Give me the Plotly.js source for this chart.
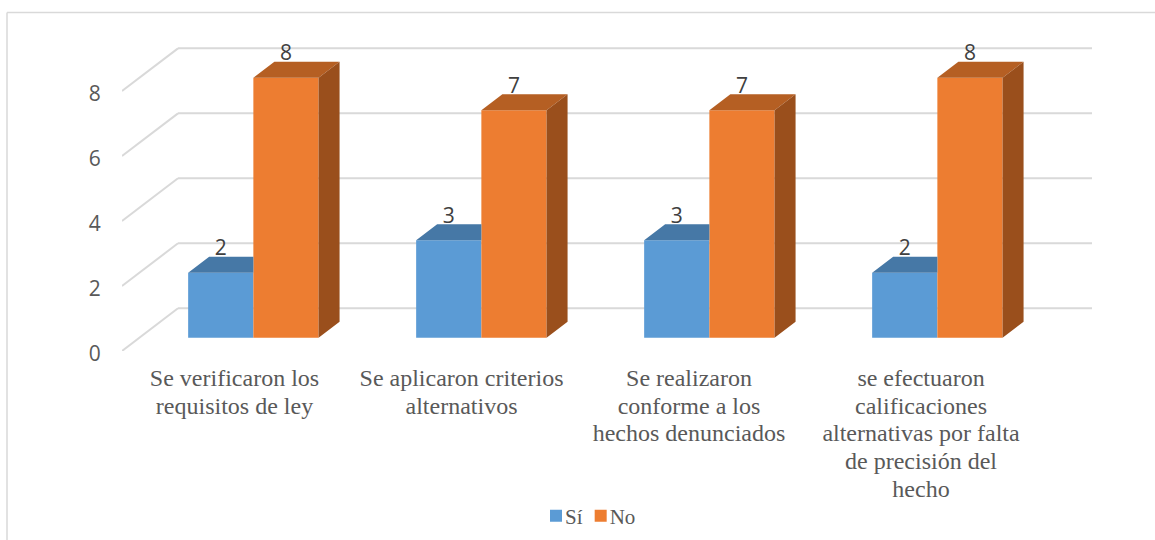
<!DOCTYPE html>
<html>
<head>
<meta charset="utf-8">
<script src="https://cdn.plot.ly/plotly-3.0.1.min.js"></script>
<style>html,body{margin:0;padding:0;background:#fff}</style>
</head>
<body>
<div id="chart" style="width:1155px;height:540px"></div>
<script>
// Survey answers per question
const categories = [0, 1, 2, 3];
const tickLabels = [
  "Se verificaron los<br>requisitos de ley",
  "Se aplicaron criterios<br>alternativos",
  "Se realizaron<br>conforme a los<br>hechos denunciados",
  "se efectuaron<br>calificaciones<br>alternativas por falta<br>de precisión del<br>hecho"
];
const si = [2, 3, 3, 2];
const no = [8, 7, 7, 8];
const yTicks = [0, 2, 4, 6, 8];

// Oblique projection of the floor, in axis units
const depthX = 0.2456, depthY = 1.315;   // full floor depth
const frontAt = 0.31, barDepth = 0.375;  // bar position inside the floor
const barWidth = 0.286;
const shiftX = frontAt * depthX, lift = frontAt * depthY;
const dx = barDepth * depthX, dy = barDepth * depthY;
const labelDrop = 0.12;

const BLUE = "#5B9BD5", BLUE_TOP = "#4678A6";
const ORANGE = "#ED7D31", ORANGE_TOP = "#B55F23", ORANGE_SIDE = "#9A4F1C";
const GRID = "#D9D9D9", SERIF = "Liberation Serif", SANS = "Open Sans";

function barTrace(name, values, color, offset) {
  return {
    type: "bar", name, x: categories.map(c => c + shiftX), y: values, base: lift,
    width: barWidth, offset, marker: {color, line: {width: 0}}, hoverinfo: "skip"
  };
}
function polygons(color, rings) {
  const x = [], y = [];
  rings.forEach(r => { r.forEach(p => { x.push(p[0]); y.push(p[1]); }); x.push(null); y.push(null); });
  return {
    type: "scatter", mode: "lines", x, y, fill: "toself", fillcolor: color,
    line: {width: 0}, showlegend: false, hoverinfo: "skip", cliponaxis: false
  };
}
function labels(values, offset, color) {
  return {
    type: "scatter", mode: "text", showlegend: false, hoverinfo: "skip", cliponaxis: false,
    x: categories.map(c => c + shiftX + offset), y: values.map(v => v + lift + dy - labelDrop),
    text: values.map(String), textposition: "top center",
    textfont: {family: SANS, size: 21, color}
  };
}

// The blue side face is hidden by the taller orange bar, so the blue top stops at its edge
const blueTops = categories.map((c, i) => {
  const l = c + shiftX - barWidth, r = c + shiftX, t = si[i] + lift;
  return [[l, t], [r, t], [r, t + dy], [l + dx, t + dy], [l, t]];
});
const orangeTops = categories.map((c, i) => {
  const l = c + shiftX, r = l + barWidth, t = no[i] + lift;
  return [[l, t], [r, t], [r + dx, t + dy], [l + dx, t + dy], [l, t]];
});
const orangeSides = categories.map((c, i) => {
  const r = c + shiftX + barWidth, t = no[i] + lift;
  return [[r, lift], [r + dx, lift + dy], [r + dx, t + dy], [r, t], [r, lift]];
});

const traces = [
  barTrace("Sí", si, BLUE, -barWidth),
  barTrace("No", no, ORANGE, 0),
  polygons(BLUE_TOP, blueTops),
  polygons(ORANGE_TOP, orangeTops),
  polygons(ORANGE_SIDE, orangeSides),
  labels(si, -barWidth / 2, "#404040"),
  labels(no, barWidth / 2, "#404040")
];

const W = 1155, H = 540, mL = 122, mR = 63, mT = 40, mB = 189.3;

// Wall and floor guide lines sit behind the bars
const xMin = -0.5, xMax = xMin + (W - mL - mR) / 228;
const shapes = [];
yTicks.forEach(v => {
  const line = {color: GRID, width: 2};
  shapes.push({type: "line", layer: "below", xref: "x", yref: "y", line,
    x0: xMin, y0: v, x1: xMin + depthX, y1: v + depthY});
  shapes.push({type: "line", layer: "below", xref: "x", yref: "y", line,
    x0: xMin + depthX, y0: v + depthY, x1: xMax, y1: v + depthY});
});

// Frame along the top and left of the page
const px = p => (p - mL) / (W - mL - mR);
const py = p => (H - mB - p) / (H - mT - mB);
const frame = {color: GRID, width: 1.5};
shapes.push({type: "line", xref: "paper", yref: "paper", line: frame,
  x0: px(7), y0: py(12.5), x1: px(W), y1: py(12.5)});
shapes.push({type: "line", xref: "paper", yref: "paper", line: frame,
  x0: px(7), y0: py(12.5), x1: px(7), y1: py(H)});

const layout = {
  width: W, height: H, autosize: false,
  margin: {l: mL, r: mR, t: mT, b: mB, pad: 0},
  paper_bgcolor: "#fff", plot_bgcolor: "rgba(0,0,0,0)",
  barmode: "overlay", shapes,
  xaxis: {
    range: [xMin, xMax], tickmode: "array", tickvals: categories, ticktext: tickLabels,
    showgrid: false, zeroline: false, showline: false, ticks: "outside", ticklen: 5,
    tickcolor: "rgba(0,0,0,0)", tickangle: 0,
    tickfont: {family: SERIF, size: 24, color: "#595959"}
  },
  yaxis: {
    range: [0, (H - mB - mT) / 32.46], tickmode: "array", tickvals: yTicks,
    showgrid: false, zeroline: false, showline: false, ticks: "outside", ticklen: 16,
    tickcolor: "rgba(0,0,0,0)",
    tickfont: {family: SANS, size: 21, color: "#595959"}
  },
  legend: {
    orientation: "h", xref: "container", yref: "container",
    x: 536 / W, xanchor: "left", y: (H - 516) / H, yanchor: "middle",
    font: {family: SERIF, size: 21, color: "#595959"}, itemwidth: 30,
    bgcolor: "rgba(0,0,0,0)"
  },
  showlegend: true
};

// Category labels sit a little off their ticks and use tighter leading
const labelLeading = 1.155;
const labelNudge = [-1.5, -2.5, -3, 1];
const valueTickDrop = 2.5;

Plotly.newPlot("chart", traces, layout, {displayModeBar: false, staticPlot: true}).then(gd => {
  gd.querySelectorAll(".xtick text").forEach((t, i) => {
    const base = t.getAttribute("transform") || "";
    t.setAttribute("transform", `${base} translate(${labelNudge[i]},0)`);
    t.querySelectorAll("tspan.line").forEach((s, j) => {
      if (j > 0) s.setAttribute("dy", (j * labelLeading) + "em");
    });
  });
  gd.querySelectorAll(".ytick text").forEach(t => {
    const base = t.getAttribute("transform") || "";
    t.setAttribute("transform", `${base} translate(0,${valueTickDrop})`);
  });
  // Tighten the legend: text closer to its swatch, entries closer together
  const items = gd.querySelectorAll(".legend .traces");
  items.forEach((g, i) => {
    const txt = g.querySelector(".legendtext");
    txt.setAttribute("x", parseFloat(txt.getAttribute("x")) - 11);
    if (i === 1) {
      const m = /translate\(([-\d.]+)[ ,]*([-\d.]*)/.exec(g.getAttribute("transform") || "");
      if (m) g.setAttribute("transform", `translate(${parseFloat(m[1]) - 18},${m[2] || 0})`);
    }
  });
});
</script>
</body>
</html>
